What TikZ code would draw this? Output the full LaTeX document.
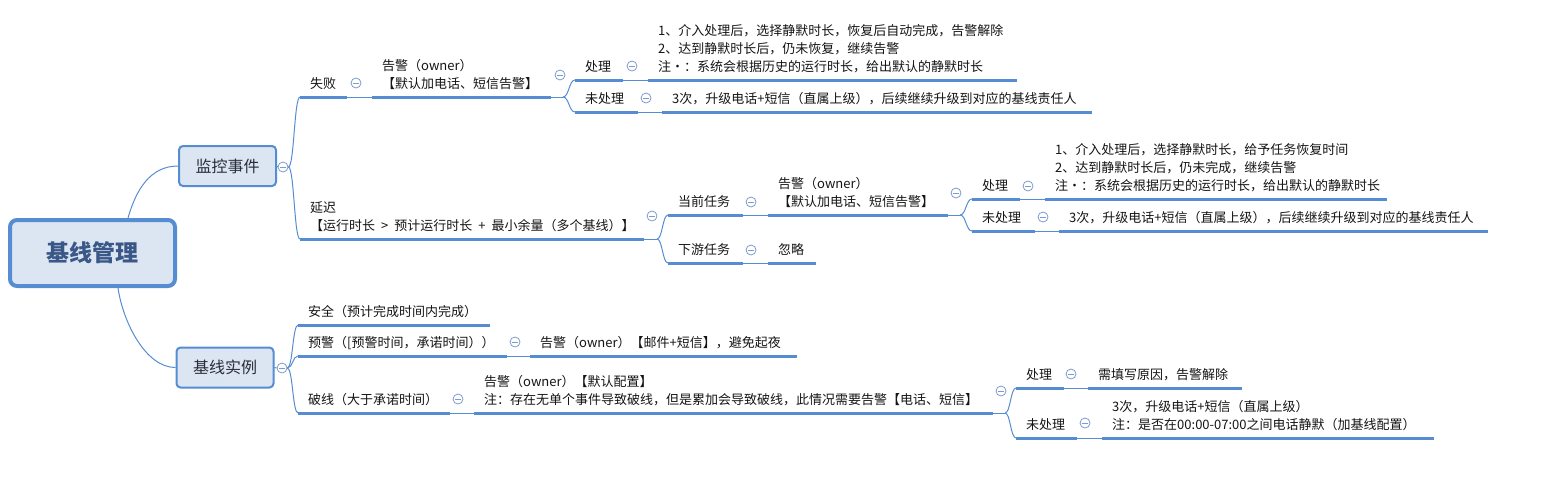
\documentclass[tikz,border=0pt]{standalone}
\usepackage{fontspec}
\setmainfont{Noto Sans CJK SC}
\usetikzlibrary{calc}
\definecolor{lb}{RGB}{86,140,210}
\definecolor{fillb}{RGB}{220,230,242}
\definecolor{cbl}{RGB}{125,155,205}
\definecolor{roottxt}{RGB}{58,88,135}
\definecolor{subtxt}{RGB}{40,45,55}
\definecolor{txt}{RGB}{20,20,20}
\tikzset{
 tp/.style={anchor=south west, inner xsep=10pt, inner ysep=0pt, align=left, font=\fontsize{13}{18}\selectfont, text=txt},
 uline/.style={draw=lb, line width=3pt},
 conn/.style={draw=lb, line width=1pt},
 cb/.style={circle, draw=cbl, line width=0.8pt, fill=white, minimum size=10pt, inner sep=0pt,
   path picture={\draw[cbl,line width=0.8pt] ([xshift=-2.6pt]path picture bounding box.center) -- ([xshift=2.6pt]path picture bounding box.center);}},
 rootbox/.style={draw=lb, line width=4pt, fill=fillb, rounded corners=7pt, minimum width=165pt, minimum height=66pt, font=\fontsize{23}{26}\selectfont\bfseries, text=roottxt},
 subbox/.style={draw=lb, line width=2pt, fill=fillb, rounded corners=4pt, minimum width=97pt, minimum height=40pt, font=\fontsize{16}{18}\selectfont, text=subtxt},
}
\newcommand\dep{\rule[-8pt]{0pt}{1pt}}
\newcommand\wsp{\hspace{6pt}}
\newcommand\tpc[5]{\node[tp] (#1) at (#2,#3) {#5\dep}; \draw[uline] (#1.south west) -- ++(#4,0) coordinate (#1-e);}
\newcommand\cbn[3]{\node[cb] (#1) at ($(#2)+(#3)$) {};}
\newcommand\branch[2]{\draw[conn] let \p1=(#1), \p2=(#2) in (\p1) .. controls ({0.5*\x1+0.5*\x2},\y1) and ({0.5*\x1+0.5*\x2},\y2) .. (\p2);}
\begin{document}
\begin{tikzpicture}[x=1pt,y=-1pt]
\useasboundingbox (0,0) rectangle (1546,488);
% root and main topics
\node[rootbox] (root) at (92.5,253) {基线管理};
\node[subbox] (jk) at (227.5,166) {监控事件};
\node[subbox] (sl) at (225,367.5) {基线实例};
\coordinate (rt) at ($(root.north west)+(120,0)$);
\draw[conn] (rt) .. controls +(8,-28) and +(-28,0) .. (jk.west);
\coordinate (rb) at ($(root.south west)+(110,0)$);
\draw[conn] (rb) .. controls +(5,34) and +(-30,0) .. (sl.west);
\node[cb] (jk-c) at (283,167) {};
\draw[conn] (jk.east) -- (jk-c.west);
\node[cb] (sl-c) at (282,368) {};
\draw[conn] (sl.east) -- (sl-c.west);
% 失败
\tpc{fa}{300}{97}{47}{失败}
\tpc{yc}{300}{239}{344}{延迟\\【运行时长\wsp{}>\wsp{}预计运行时长\wsp{}+\wsp{}最小余量（多个基线）】}
\branch{jk-c.east}{fa.south west}
\branch{jk-c.east}{yc.south west}
\cbn{fa-c}{fa-e}{9,-14}
\tpc{fag}{372}{97}{179}{告警（owner）\\【默认加电话、短信告警】}
\draw[conn] (fa-e) -- (fag.south west);
\cbn{fag-c}{fag-e}{9,-22}
\coordinate (fag-j) at ($(fag-e)+(12,0)$);
\draw[conn] (fag-e) -- (fag-j);
\tpc{facl}{575}{80}{48}{处理}
\tpc{fawc}{575}{112}{63}{未处理}
\branch{fag-j}{facl.south west}
\branch{fag-j}{fawc.south west}
\cbn{facl-c}{facl-e}{9,-14}
\cbn{fawc-c}{fawc-e}{8,-14}
\tpc{faclt}{648}{80}{369}{1、介入处理后，选择静默时长，恢复后自动完成，告警解除\\2、达到静默时长后，仍未恢复，继续告警\\注·：系统会根据历史的运行时长，给出默认的静默时长}
\draw[conn] (facl-e) -- (faclt.south west);
\tpc{fawct}{662}{112}{430}{3次，升级电话+短信（直属上级），后续继续升级到对应的基线责任人}
\draw[conn] (fawc-e) -- (fawct.south west);
% 延迟
\cbn{yc-c}{yc-e}{8,-23}
\coordinate (yc-j) at ($(yc-e)+(13,0)$);
\draw[conn] (yc-e) -- (yc-j);
\tpc{dq}{668}{215}{75}{当前任务}
\tpc{xy}{668}{263}{75}{下游任务}
\branch{yc-j}{dq.south west}
\branch{yc-j}{xy.south west}
\cbn{dq-c}{dq-e}{8,-13}
\cbn{xy-c}{xy-e}{8,-13}
\tpc{dqg}{768}{215}{180}{告警（owner）\\【默认加电话、短信告警】}
\draw[conn] (dq-e) -- (dqg.south west);
\cbn{dqg-c}{dqg-e}{8,-22}
\coordinate (dqg-j) at ($(dqg-e)+(12,0)$);
\draw[conn] (dqg-e) -- (dqg-j);
\tpc{dqcl}{972}{199}{48}{处理}
\tpc{dqwc}{972}{231}{63}{未处理}
\branch{dqg-j}{dqcl.south west}
\branch{dqg-j}{dqwc.south west}
\cbn{dqcl-c}{dqcl-e}{8,-13}
\cbn{dqwc-c}{dqwc-e}{8,-14}
\tpc{dqclt}{1045}{199}{342}{1、介入处理后，选择静默时长，给予任务恢复时间\\2、达到静默时长后，仍未完成，继续告警\\注·：系统会根据历史的运行时长，给出默认的静默时长}
\draw[conn] (dqcl-e) -- (dqclt.south west);
\tpc{dqwct}{1059}{231}{429}{3次，升级电话+短信（直属上级），后续继续升级到对应的基线责任人}
\draw[conn] (dqwc-e) -- (dqwct.south west);
\tpc{hl}{768}{263}{48}{忽略}
\draw[conn] (xy-e) -- (hl.south west);
% 基线实例
\tpc{aq}{298}{325}{192}{安全（预计完成时间内完成）}
\tpc{yj}{298}{356}{209}{预警（[预警时间，承诺时间））}
\tpc{px}{298}{413}{152}{破线（大于承诺时间）}
\branch{sl-c.east}{aq.south west}
\branch{sl-c.east}{yj.south west}
\branch{sl-c.east}{px.south west}
\cbn{yj-c}{yj-e}{8,-14}
\tpc{yjt}{530}{356}{267}{告警（owner）【邮件+短信】，避免起夜}
\draw[conn] (yj-e) -- (yjt.south west);
\cbn{px-c}{px-e}{8,-14}
\tpc{pxt}{474}{413}{519}{告警（owner）【默认配置】\\注：存在无单个事件导致破线，但是累加会导致破线，此情况需要告警【电话、短信】}
\draw[conn] (px-e) -- (pxt.south west);
\cbn{pxt-c}{pxt-e}{8,-22}
\coordinate (pxt-j) at ($(pxt-e)+(12,0)$);
\draw[conn] (pxt-e) -- (pxt-j);
\tpc{pxcl}{1016}{388}{48}{处理}
\tpc{pxwc}{1016}{438}{61}{未处理}
\branch{pxt-j}{pxcl.south west}
\branch{pxt-j}{pxwc.south west}
\cbn{pxcl-c}{pxcl-e}{7,-14}
\cbn{pxwc-c}{pxwc-e}{8,-15}
\tpc{pxclt}{1088}{388}{154}{需填写原因，告警解除}
\draw[conn] (pxcl-e) -- (pxclt.south west);
\tpc{pxwct}{1102}{438}{332}{3次，升级电话+短信（直属上级）\\注：是否在00:00-07:00之间电话静默（加基线配置）}
\draw[conn] (pxwc-e) -- (pxwct.south west);
\end{tikzpicture}
\end{document}
